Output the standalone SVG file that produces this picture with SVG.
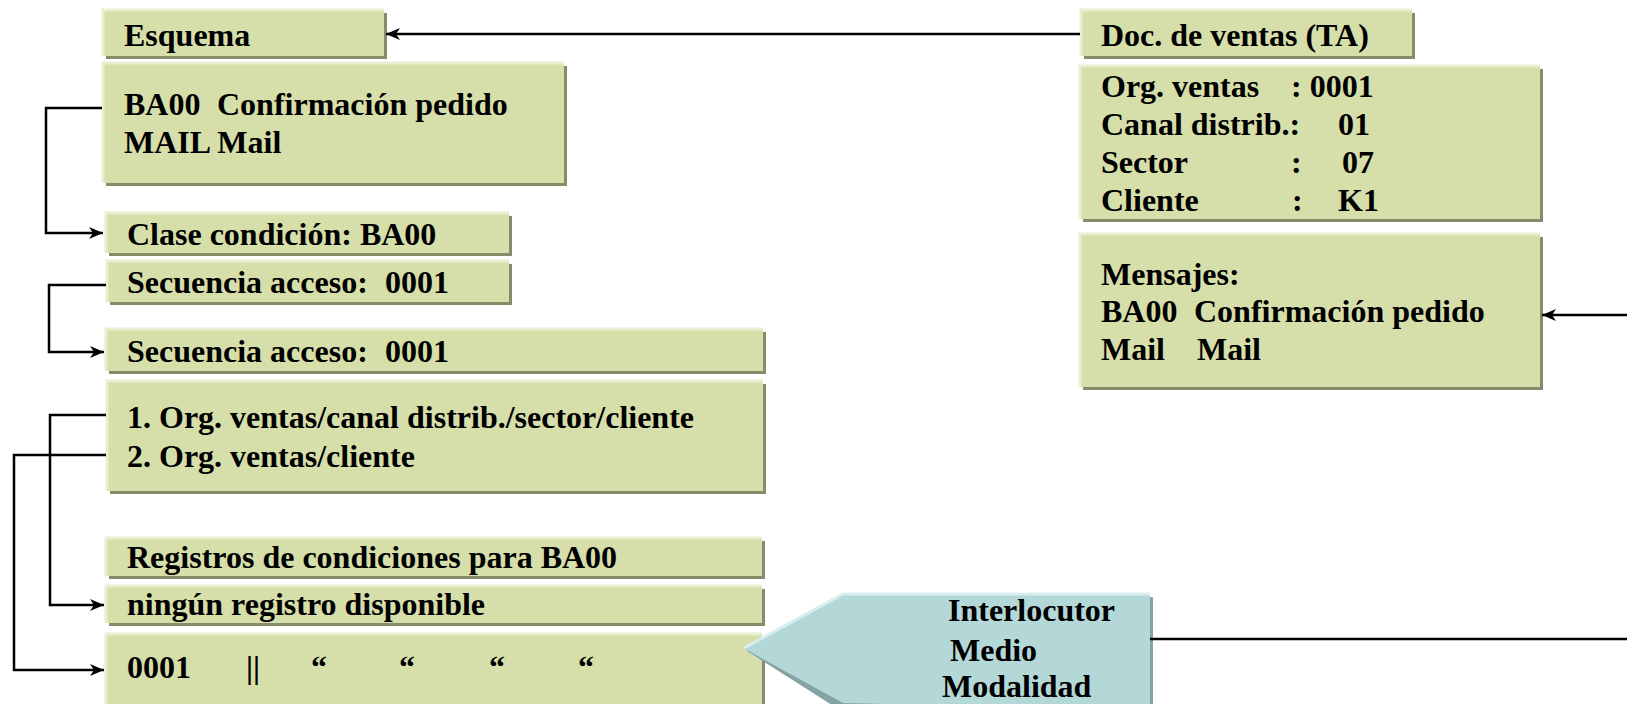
<svg xmlns="http://www.w3.org/2000/svg" width="1627" height="704" viewBox="0 0 1627 704">
<defs>
<style>
.sh{fill:#878b69}
.bx{fill:#d6dea9}
.hl{fill:none;stroke:#e9eed0;stroke-width:3}
.tsh{fill:#85a3a3}
.tb{fill:#b4d8d7}
.thl{fill:none;stroke:#d8eeee;stroke-width:3}
text{font-family:"Liberation Serif","Times New Roman",serif;font-weight:bold;font-size:32px;fill:#000}
.cn{fill:none;stroke:#000;stroke-width:2.5}
</style>
<marker id="ar" markerUnits="userSpaceOnUse" markerWidth="16" markerHeight="14" refX="14" refY="6" orient="auto">
<path d="M0,0 L14,6 L0,12 L4,6 z" fill="#000"/>
</marker>
</defs>
<rect width="1627" height="704" fill="#fff"/>

<g id="esquema">
<rect class="sh" x="106" y="13" width="281" height="46"/>
<rect class="bx" x="102" y="9" width="282" height="47"/>
<polyline class="hl" points="103,56 103,10 384,10"/>
<text x="124" y="46">Esquema</text>
</g>

<g id="ba00">
<rect class="sh" x="106" y="66" width="461" height="120"/>
<rect class="bx" x="102" y="62" width="462" height="121"/>
<polyline class="hl" points="103,183 103,63 564,63"/>
<text x="124" y="115">BA00</text><text x="217" y="115">Confirmación pedido</text>
<text x="124" y="153">MAIL Mail</text>
</g>

<g id="clase">
<rect class="sh" x="109" y="216" width="403" height="40"/>
<rect class="bx" x="105" y="212" width="404" height="41"/>
<polyline class="hl" points="106,253 106,213 509,213"/>
<text x="127" y="245">Clase condición: BA00</text>
</g>

<g id="secuencia1">
<rect class="sh" x="110" y="264" width="402" height="41"/>
<rect class="bx" x="106" y="260" width="403" height="42"/>
<polyline class="hl" points="107,302 107,261 509,261"/>
<text x="127" y="293">Secuencia acceso:</text><text x="385" y="293">0001</text>
</g>

<g id="secuencia2">
<rect class="sh" x="109" y="332" width="657" height="42"/>
<rect class="bx" x="105" y="328" width="658" height="43"/>
<polyline class="hl" points="106,371 106,329 763,329"/>
<text x="127" y="362">Secuencia acceso:</text><text x="385" y="362">0001</text>
</g>

<g id="orgs">
<rect class="sh" x="110" y="384" width="656" height="110"/>
<rect class="bx" x="106" y="380" width="657" height="111"/>
<polyline class="hl" points="107,491 107,381 763,381"/>
<text x="127" y="428">1. Org. ventas/canal distrib./sector/cliente</text>
<text x="127" y="467">2. Org. ventas/cliente</text>
</g>

<g id="registros">
<rect class="sh" x="109" y="541" width="656" height="38"/>
<rect class="bx" x="105" y="537" width="657" height="39"/>
<polyline class="hl" points="106,576 106,538 762,538"/>
<text x="127" y="568">Registros de condiciones para BA00</text>
</g>

<g id="ninguno">
<rect class="sh" x="109" y="589" width="656" height="37"/>
<rect class="bx" x="105" y="585" width="657" height="38"/>
<polyline class="hl" points="106,623 106,586 762,586"/>
<text x="127" y="615">ningún registro disponible</text>
</g>

<g id="reg0001">
<rect class="sh" x="109" y="637" width="656" height="80"/>
<rect class="bx" x="105" y="633" width="657" height="80"/>
<polyline class="hl" points="106,713 106,634 762,634"/>
<text x="127" y="678">0001</text>
<text x="246" y="678">||</text>
<text x="311" y="678">“</text>
<text x="399" y="678">“</text>
<text x="489" y="678">“</text>
<text x="578" y="678">“</text>
</g>

<g id="docventas">
<rect class="sh" x="1084" y="13" width="331" height="46"/>
<rect class="bx" x="1080" y="9" width="332" height="47"/>
<polyline class="hl" points="1081,56 1081,10 1412,10"/>
<text x="1101" y="46">Doc. de ventas (TA)</text>
</g>

<g id="datos">
<rect class="sh" x="1083" y="69" width="460" height="153"/>
<rect class="bx" x="1079" y="65" width="461" height="154"/>
<polyline class="hl" points="1080,219 1080,66 1540,66"/>
<text x="1101" y="97">Org. ventas</text><text x="1291" y="97">: 0001</text>
<text x="1101" y="135">Canal distrib.:</text><text x="1338" y="135">01</text>
<text x="1101" y="173">Sector</text><text x="1291" y="173">:</text><text x="1342" y="173">07</text>
<text x="1101" y="211">Cliente</text><text x="1292" y="211">:</text><text x="1338" y="211">K1</text>
</g>

<g id="mensajes">
<rect class="sh" x="1083" y="237" width="460" height="153"/>
<rect class="bx" x="1079" y="233" width="461" height="154"/>
<polyline class="hl" points="1080,387 1080,234 1540,234"/>
<text x="1101" y="285">Mensajes:</text>
<text x="1101" y="322">BA00</text><text x="1194" y="322">Confirmación pedido</text>
<text x="1101" y="360">Mail</text><text x="1197" y="360">Mail</text>
</g>

<g id="interlocutor">
<polygon class="tsh" points="747,651 846,597 1153,597 1153,714 846,714"/>
<polygon class="tb" points="743,648 843,593 1150,593 1150,710 843,703"/>
<polyline class="thl" points="744,648 843,594 1150,594"/>
<text x="948" y="621">Interlocutor</text>
<text x="950" y="661">Medio</text>
<text x="942" y="697">Modalidad</text>
</g>

<g id="connectors">
<path class="cn" d="M102,108 H46 V233 H103" marker-end="url(#ar)"/>
<path class="cn" d="M106,285 H49 V352 H104" marker-end="url(#ar)"/>
<path class="cn" d="M106,415 H50 V605 H104" marker-end="url(#ar)"/>
<path class="cn" d="M106,455 H14 V670 H104" marker-end="url(#ar)"/>
<path class="cn" d="M1080,34 H386" marker-end="url(#ar)"/>
<path class="cn" d="M1627,315 H1542" marker-end="url(#ar)"/>
<path class="cn" d="M1150,639 H1627"/>
</g>
</svg>
